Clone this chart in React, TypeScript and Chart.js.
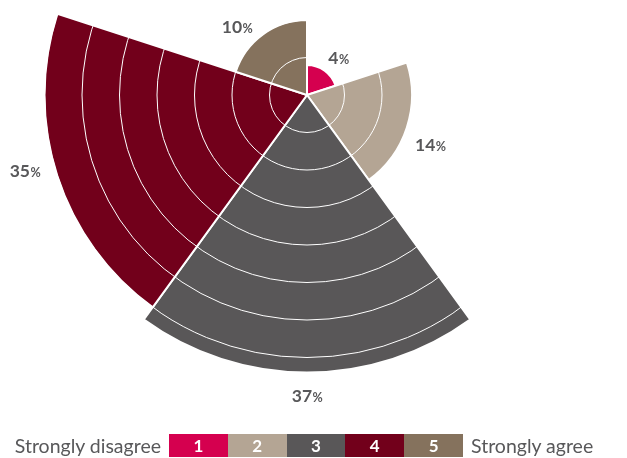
import React, { useEffect, useRef } from "react";
import { Chart, registerables } from "chart.js";

Chart.register(...registerables);

const categories = ["1", "2", "3", "4", "5"];
const values = [4, 14, 37, 35, 10];
const colors = ["#D5004F", "#B4A594", "#595758", "#72001B", "#85725D"];
const legendLeft = "Strongly disagree";
const legendRight = "Strongly agree";
// label placement tweaks (degrees of rotation from the segment middle, px gap beyond outer edge)
const labelAngleShift = [4.4, 4, 0, 3, -9.8];
const labelGap = [18.6, 28, 22.5, 29.5, 22.6];

const SIZE = 700;
const PX_PER_UNIT = 7.5;
const CENTER_X = 307;
const CENTER_Y = 95;
const LABEL_COLOR = "#58585A";
const FONT = "Lato, 'Open Sans', sans-serif";

const valueLabels = {
  id: "valueLabels",
  afterDraw(chart: any) {
    const ctx = chart.ctx;
    const meta = chart.getDatasetMeta(0);
    ctx.save();
    ctx.fillStyle = LABEL_COLOR;
    ctx.textBaseline = "alphabetic";
    ctx.textAlign = "left";
    meta.data.forEach((el: any, i: number) => {
      const p = el.getProps(["x", "y", "startAngle", "endAngle", "outerRadius"], true);
      const mid = (p.startAngle + p.endAngle) / 2 + (labelAngleShift[i] * Math.PI) / 180;
      const r = p.outerRadius + labelGap[i];
      const cx = p.x + r * Math.cos(mid);
      const cy = p.y + r * Math.sin(mid);
      const num = String(values[i]);
      ctx.font = `bold 17.5px ${FONT}`;
      const wn = ctx.measureText(num).width;
      ctx.font = `bold 12.5px ${FONT}`;
      const wp = ctx.measureText("%").width;
      const x0 = cx - (wn + wp) / 2;
      const base = cy + 6.5;
      ctx.font = `bold 17.5px ${FONT}`;
      ctx.fillText(num, x0, base);
      ctx.font = `bold 12.5px ${FONT}`;
      ctx.fillText("%", x0 + wn + 0.5, base);
    });
    ctx.restore();
  },
};

export default function App() {
  const ref = useRef<HTMLCanvasElement>(null);
  useEffect(() => {
    if (!ref.current) return;
    const chart = new Chart(ref.current, {
      type: "polarArea",
      data: {
        labels: categories,
        datasets: [
          {
            data: values,
            backgroundColor: colors,
            borderColor: "#ffffff",
            borderWidth: 2,
          },
        ],
      },
      options: {
        responsive: false,
        animation: false,
        devicePixelRatio: 1,
        layout: { padding: 0 },
        plugins: { legend: { display: false }, tooltip: { enabled: false } },
        scales: {
          r: {
            min: 0,
            max: SIZE / 2 / PX_PER_UNIT,
            startAngle: 0,
            ticks: { display: false, stepSize: 5 },
            grid: { z: 1, color: "#ffffff", lineWidth: 1, circular: true },
            angleLines: { display: false },
            pointLabels: { display: false },
          },
        },
      },
      plugins: [valueLabels],
    } as any);
    return () => chart.destroy();
  }, []);

  const sideText: React.CSSProperties = {
    position: "absolute",
    top: 434,
    height: 23,
    lineHeight: "23px",
    fontSize: 19.5,
    color: LABEL_COLOR,
    whiteSpace: "nowrap",
  };

  return (
    <div
      style={{
        position: "fixed",
        left: 0,
        top: 0,
        width: 627,
        height: 458,
        overflow: "hidden",
        background: "#ffffff",
        fontFamily: FONT,
      }}
    >
      <canvas
        ref={ref}
        width={SIZE}
        height={SIZE}
        style={{
          position: "absolute",
          left: CENTER_X - SIZE / 2,
          top: CENTER_Y - SIZE / 2,
          width: SIZE,
          height: SIZE,
        }}
      />
      <div style={{ ...sideText, right: 627 - 161 }}>{legendLeft}</div>
      <div
        style={{
          position: "absolute",
          left: 169,
          top: 434,
          width: 294,
          height: 23,
          display: "flex",
        }}
      >
        {categories.map((c, i) => (
          <div
            key={c}
            style={{
              flex: 1,
              background: colors[i],
              color: "#ffffff",
              fontWeight: "bold",
              fontSize: 17,
              textAlign: "center",
              lineHeight: "23px",
            }}
          >
            {c}
          </div>
        ))}
      </div>
      <div style={{ ...sideText, left: 471 }}>{legendRight}</div>
    </div>
  );
}
